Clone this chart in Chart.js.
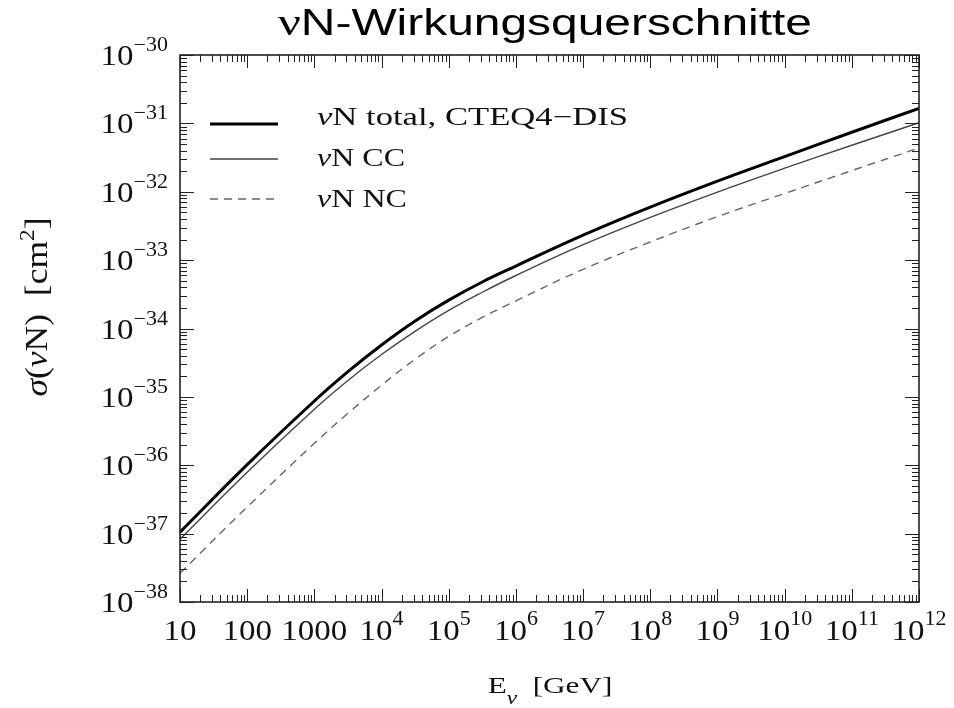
<!DOCTYPE html>
<html>
<head>
<meta charset="utf-8">
<script src="https://cdn.jsdelivr.net/npm/chart.js@4/dist/chart.umd.min.js"></script>
<style>
  html, body { margin: 0; padding: 0; background: #fff; }
  canvas { display: block; }
</style>
</head>
<body>
<canvas id="c" width="954" height="708"></canvas>
<script>
// Neutrino energy E_nu [GeV]
const energies = [10, 100, 1000, 3162, 10000, 31623, 1e5, 316228, 1e6, 1e7, 1e8, 1e9, 1e10, 1e11, 1e12];
// Cross sections sigma(nu N) [cm^2]
const sigmaTotal = [1.05e-37, 1.02e-36, 8.7e-36, 2.34e-35, 5.75e-35, 1.29e-34, 2.6e-34, 4.79e-34, 8.2e-34, 2.32e-33, 5.96e-33, 1.43e-32, 3.27e-32, 7.41e-32, 1.66e-31];
const sigmaCC    = [8.3e-38, 7.9e-37, 6.6e-36, 1.74e-35, 4.17e-35, 9.1e-35, 1.84e-34, 3.39e-34, 5.96e-34, 1.68e-33, 4.22e-33, 9.9e-33, 2.21e-32, 4.79e-32, 1.02e-31];
const sigmaNC    = [2.63e-38, 2.45e-37, 2.09e-36, 5.75e-36, 1.48e-35, 3.55e-35, 7.67e-35, 1.45e-34, 2.54e-34, 7.33e-34, 1.84e-33, 4.32e-33, 9.44e-33, 2.04e-32, 4.37e-32];

const seriesNames = ['νN total, CTEQ4−DIS', 'νN CC', 'νN NC'];

// Axis ticks: value, base text, exponent text
const xTickValues = [10, 100, 1000, 1e4, 1e5, 1e6, 1e7, 1e8, 1e9, 1e10, 1e11, 1e12];
const xTickBase   = ['10', '100', '1000', '10', '10', '10', '10', '10', '10', '10', '10', '10'];
const xTickExp    = ['', '', '', '4', '5', '6', '7', '8', '9', '10', '11', '12'];
const yTickValues = [1e-30, 1e-31, 1e-32, 1e-33, 1e-34, 1e-35, 1e-36, 1e-37, 1e-38];
const yTickExp    = ['−30', '−31', '−32', '−33', '−34', '−35', '−36', '−37', '−38'];

const titleText = 'N-Wirkungsquerschnitte';

const SERIF = '"Liberation Serif", "Times New Roman", serif';
const SANS = '"Liberation Sans", Arial, sans-serif';

function fontOf(p) {
  return (p.italic ? 'italic ' : '') + p.px + 'px ' + (p.fam || SERIF);
}

// Draws a run of text pieces (with sub/superscripts) as one line.
function richText(ctx, parts, x, y, o) {
  ctx.save();
  const ws = [];
  let w = 0;
  for (const p of parts) {
    ctx.font = fontOf(p);
    const m = ctx.measureText(p.t).width;
    ws.push(m);
    w += m;
  }
  const sx = o.width ? o.width / w : (o.sx || 1);
  ctx.translate(x, y);
  if (o.rot) ctx.rotate(o.rot);
  ctx.scale(sx, o.sy || 1);
  let cx = o.align === 'center' ? -w / 2 : (o.align === 'right' ? -w : 0);
  ctx.textAlign = 'left';
  ctx.textBaseline = 'alphabetic';
  ctx.fillStyle = o.color || '#000';
  parts.forEach((p, i) => {
    ctx.font = fontOf(p);
    ctx.fillText(p.t, cx, p.dy || 0);
    cx += ws[i];
  });
  ctx.restore();
}

const framePlugin = {
  id: 'frameAndLabels',
  afterDatasetsDraw(chart) {
    const ctx = chart.ctx;
    const a = chart.chartArea;
    const xs = chart.scales.x;
    const ys = chart.scales.y;

    ctx.save();
    ctx.strokeStyle = '#222';
    ctx.lineWidth = 1;

    // inward ticks on all four sides
    const xMajor = 13, xMinor = 7, yMajor = 14, yMinor = 7;
    for (let e = 1; e <= 12; e++) {
      for (let k = 1; k <= 9; k++) {
        if (k > 1 && e === 12) continue;
        const v = k * Math.pow(10, e);
        const px = Math.round(xs.getPixelForValue(v)) + 0.5;
        const len = k === 1 ? xMajor : xMinor;
        ctx.beginPath();
        ctx.moveTo(px, a.bottom); ctx.lineTo(px, a.bottom - len);
        ctx.moveTo(px, a.top); ctx.lineTo(px, a.top + len);
        ctx.stroke();
      }
    }
    for (let e = -38; e <= -30; e++) {
      for (let k = 1; k <= 9; k++) {
        if (e === -30 && k > 1) continue;
        const v = k * Math.pow(10, e);
        const py = Math.round(ys.getPixelForValue(v)) + 0.5;
        const len = k === 1 ? yMajor : yMinor;
        ctx.beginPath();
        ctx.moveTo(a.left, py); ctx.lineTo(a.left + len, py);
        ctx.moveTo(a.right, py); ctx.lineTo(a.right - len, py);
        ctx.stroke();
      }
    }

    // frame
    ctx.lineWidth = 1.6;
    ctx.strokeStyle = '#222';
    ctx.strokeRect(a.left, a.top, a.right - a.left, a.bottom - a.top);
    ctx.restore();

    // x tick labels
    xTickValues.forEach((v, i) => {
      const px = xs.getPixelForValue(v);
      const parts = [{ t: xTickBase[i], px: 30 }];
      if (xTickExp[i]) parts.push({ t: xTickExp[i], px: 20, dy: -15 });
      richText(ctx, parts, px, 640, { align: 'center', sx: 1.1, color: '#111' });
    });

    // y tick labels
    yTickValues.forEach((v, i) => {
      const py = ys.getPixelForValue(v);
      richText(ctx, [{ t: '10', px: 30 }, { t: yTickExp[i], px: 20, dy: -14 }],
        168, py + 10, { align: 'right', sx: 1.1, color: '#111' });
    });

    // axis titles
    richText(ctx, [
      { t: 'E', px: 24 },
      { t: 'ν', px: 18, italic: true, dy: 11 },
      { t: '  [GeV]', px: 24 }
    ], 550, 693, { align: 'center', sx: 1.3, color: '#111' });

    richText(ctx, [
      { t: 'σ', px: 26, italic: true },
      { t: '(', px: 26 },
      { t: 'ν', px: 26, italic: true },
      { t: 'N)  [cm', px: 26 },
      { t: '2', px: 17, dy: -11 },
      { t: ']', px: 26 }
    ], 47, 307, { align: 'center', rot: -Math.PI / 2, width: 179, sy: 1.2, color: '#111' });

    // title
    richText(ctx, [
      { t: 'ν', px: 38, fam: SERIF },
      { t: titleText, px: 36, fam: SANS }
    ], 278, 35, { align: 'left', width: 534, color: '#000' });

    // legend inside the plot
    const legendRows = [
      { y: 124, ty: 125, w: 311 },
      { y: 159, ty: 166, w: 88 },
      { y: 199, ty: 207, w: 90 }
    ];
    chart.data.datasets.forEach((ds, i) => {
      const r = legendRows[i];
      ctx.save();
      ctx.strokeStyle = ds.borderColor;
      ctx.lineWidth = ds.borderWidth;
      ctx.setLineDash(ds.borderDash || []);
      ctx.beginPath();
      ctx.moveTo(210, r.y);
      ctx.lineTo(278, r.y);
      ctx.stroke();
      ctx.restore();
      const name = seriesNames[i];
      richText(ctx, [
        { t: name.slice(0, 1), px: 25, italic: true },
        { t: name.slice(1), px: 25 }
      ], 317, r.ty, { align: 'left', width: r.w, color: '#111' });
    });
  }
};

function pts(ys) {
  return energies.map((e, i) => ({ x: e, y: ys[i] }));
}

new Chart(document.getElementById('c'), {
  type: 'line',
  data: {
    datasets: [
      { label: seriesNames[0], data: pts(sigmaTotal), borderColor: '#000', borderWidth: 3, pointRadius: 0, tension: 0.4, fill: false },
      { label: seriesNames[1], data: pts(sigmaCC), borderColor: '#444', borderWidth: 1.4, pointRadius: 0, tension: 0.4, fill: false },
      { label: seriesNames[2], data: pts(sigmaNC), borderColor: '#666', borderWidth: 1.4, borderDash: [8, 6], pointRadius: 0, tension: 0.4, fill: false }
    ]
  },
  options: {
    responsive: false,
    animation: false,
    events: [],
    layout: { padding: { left: 180, top: 55, right: 35, bottom: 106 } },
    scales: {
      x: { type: 'logarithmic', min: 10, max: 1e12, display: false },
      y: { type: 'logarithmic', min: 1e-38, max: 1e-30, display: false }
    },
    plugins: {
      legend: { display: false },
      title: { display: false },
      tooltip: { enabled: false }
    }
  },
  plugins: [framePlugin]
});
</script>
</body>
</html>
